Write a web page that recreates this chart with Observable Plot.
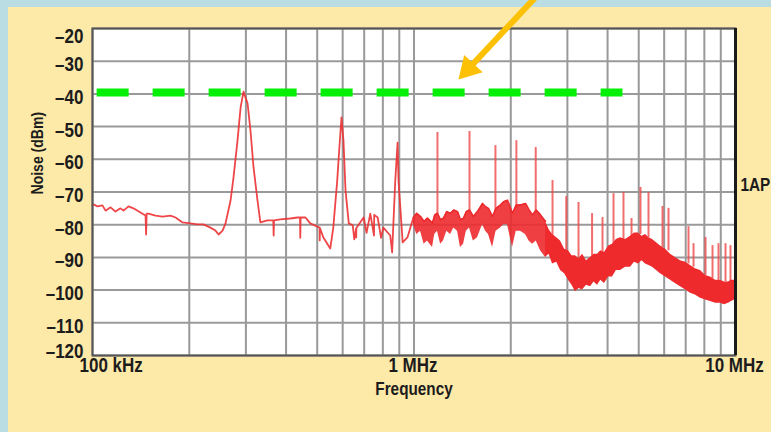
<!DOCTYPE html>
<html>
<head>
<meta charset="utf-8">
<script src="https://cdn.jsdelivr.net/npm/d3@7"></script>
<script src="https://cdn.jsdelivr.net/npm/@observablehq/plot@0.6"></script>
<style>
  html, body { margin: 0; padding: 0; background: #b9dde3; width: 771px; height: 432px; overflow: hidden; }
  #panel { position: absolute; left: 8px; top: 7px; width: 763px; height: 425px; background: #fde9a8; }
  #chart { position: absolute; left: 0; top: 0; }
</style>
</head>
<body>
<div id="panel"></div>
<div id="chart"></div>
<script>
// ---- Data (frequency in kHz, level in dBm) ----
// Low-frequency trace (single line)
const traceF  = [100, 100.7, 103.6, 107.4, 109.8, 113.8, 117.9, 122.2, 124.9, 129.4, 134.1, 141.0, 146.2, 146.8, 147.4, 149.3, 157.0, 165.1, 174.8, 181.3, 190.7, 201.6, 212.0, 221.4, 232.6, 241.3, 246.7, 253.9, 259.3, 268.8, 274.5, 282.5, 288.8, 294.9, 303.6, 310.0, 316.9, 326.0, 332.8, 350.1, 365, 366, 367, 383.9, 412.3, 434.5, 442, 442.9, 444, 459.6, 475.8, 508.6, 509, 510, 522.5, 548.9, 561.0, 577.0, 586, 594.8, 603.5, 612.3, 626.9, 645, 652, 660.5, 661, 662, 697, 712, 731.2, 751, 752, 771, 790, 803, 843.6, 855, 874.5, 889, 895, 922, 954, 996];
const traceDb = [-74, -73.8, -74.4, -74.1, -75.7, -74.7, -76.0, -75.0, -75.7, -74.4, -75.0, -76.3, -77.2, -83.0, -76.6, -76.6, -77.2, -77.5, -77.2, -77.8, -79.3, -79.6, -79.9, -79.9, -80.9, -81.8, -83.0, -81.8, -79.6, -72.6, -65.6, -54.3, -44.2, -39.3, -42.9, -51.2, -62.5, -72.6, -79.3, -78.7, -78.7, -83.3, -78.7, -78.4, -78.1, -77.8, -77.8, -84.0, -77.8, -77.8, -79.6, -80.9, -84.8, -81.0, -83.9, -87.3, -80.9, -66.5, -56.4, -47.2, -54.3, -69.5, -79.6, -80.2, -84.5, -81.2, -83.9, -81.0, -77.8, -82.5, -76.6, -83.3, -77.0, -77.8, -84.0, -80.9, -83.3, -88.5, -66.5, -54.9, -66.5, -85.4, -83.9, -77.8];

// Broadband noise region (upper and lower edge)
const bandF  = [996, 1020, 1048, 1075, 1101, 1142, 1160, 1183, 1210, 1235, 1265, 1299, 1330, 1366, 1395, 1426, 1455, 1488, 1530, 1576, 1634, 1670, 1705, 1755, 1800, 1858, 1900, 1954, 2025, 2080, 2144, 2223, 2280, 2337, 2400, 2475, 2565, 2630, 2697, 2780, 2856, 2940, 3024, 3100, 3179, 3260, 3343, 3440, 3540, 3630, 3722, 3810, 3913, 4030, 4144, 4260, 4388, 4550, 4714, 4850, 4992, 5120, 5249, 5380, 5519, 5680, 5844, 6060, 6279, 6500, 6744, 7000, 7245, 7500, 7783, 8070, 8360, 8670, 8980, 9240, 9510, 9720, 9930];
const bandHi = [-77.8, -76.5, -77.5, -79, -78, -79.5, -77, -76.5, -78.5, -78, -76, -76.5, -75.5, -76, -78.5, -78, -76, -75.5, -77.5, -76, -73.5, -74.5, -75, -77.5, -75, -74, -73, -72.5, -76.5, -74, -74, -73.5, -75.5, -77, -75.5, -77, -79, -81.5, -83, -84, -85, -87.5, -88, -89.5, -89.5, -90.5, -89, -91, -90, -89, -89, -88, -88.5, -86.5, -86, -84.5, -84, -84.5, -83.5, -82.5, -82.5, -83.5, -83, -84, -84.5, -85.5, -86.5, -87.5, -89, -90, -91, -91.5, -92.5, -93.5, -94, -95.5, -96, -97, -97, -97.5, -97.5, -97, -97];
const bandLo = [-80, -83, -82, -86, -85, -87, -83, -82, -86, -85, -82, -83, -81, -82, -87, -86, -82, -81, -85, -84, -80, -82, -83, -87, -82, -81, -80, -80, -87, -82, -82, -83, -85, -86, -85, -88, -90, -89, -92, -91.5, -94, -95, -97, -98.5, -100.5, -99.5, -100, -98.5, -99, -97.5, -98.5, -97, -98, -96, -96, -94, -94, -93, -93, -91.5, -92, -91, -92, -92.5, -93, -94, -95, -96, -97, -98, -99, -100, -101, -101.5, -102.5, -103, -103.5, -104, -104, -104.5, -104, -103.5, -103];

// Harmonic / interference spikes
const spikeF    = [1183, 1488, 1792, 2082, 2391, 2697, 2976, 3249, 3580, 3858, 4174, 4483, 4749, 5064, 5363, 5929, 6189, 7142, 7404, 8068, 8483, 8853, 9310, 9647];
const spikeTop  = [-51.8, -51.5, -55.8, -54.3, -56.4, -66.5, -71.4, -73.2, -76.6, -77.8, -70.5, -70.2, -78.1, -68.6, -70.2, -74.4, -75, -80.6, -85.8, -83.9, -86.4, -85.8, -85.8, -86.4];
const spikeBase = [-77, -76, -76, -75, -76, -84, -88, -91, -90, -89, -86, -85, -84, -83, -84, -87, -88, -92, -93, -95.5, -96.5, -97, -97.5, -97.5];

// -40 dBm limit line and annotation arrow
const limitF  = [103, 4450];
const limitDb = [-40, -40];
const arrowF  = [2416, 1375];
const arrowDb = [-9.9, -35.6];

// Axes
const yTicks = [-20, -30, -40, -50, -60, -70, -80, -90, -100, -110, -120];
const xLabelF = [100, 1000, 10000];
const xLabels = ["100 kHz", "1 MHz", "10 MHz"];
const gridF = [1, 2, 3, 4, 5, 6, 7, 8, 9].flatMap(m => [m * 100, m * 1000]).concat([10000]);

// ---- Tables ----
const trace = traceF.map((f, i) => ({f, db: traceDb[i]}));
const band = bandF.map((f, i) => ({f, hi: bandHi[i], lo: bandLo[i]}));
const bandLight = band.filter(d => d.f <= 2565);
const bandSolid = band.filter(d => d.f >= 2565);
const spikes = spikeF.map((f, i) => ({f, top: spikeTop[i], base: spikeBase[i]}));
const limit = limitF.map((f, i) => ({f, db: limitDb[i]}));
const arrow = [{x1: arrowF[0], y1: arrowDb[0], x2: arrowF[1], y2: arrowDb[1]}];

const FONT = "'Liberation Sans', Arial, sans-serif";
const lab = d => "\u2013" + Math.abs(d);
const txt = {fontFamily: FONT, fontWeight: "bold", fill: "#1c1c1c"};

const chart = Plot.plot({
  width: 771,
  height: 432,
  marginLeft: 92,
  marginTop: 28,
  marginRight: 36,
  marginBottom: 77,
  style: {background: "transparent", fontFamily: FONT, overflow: "visible"},
  x: {type: "log", domain: [100, 10000], axis: null},
  y: {domain: [-120, -20], axis: null},
  marks: [
    Plot.frame({fill: "white"}),
    Plot.ruleX(gridF, {stroke: "#999", strokeWidth: 2}),
    Plot.ruleY(yTicks, {stroke: "#9a9a9a", strokeWidth: 2}),
    Plot.ruleX(spikes, {x: "f", y1: "base", y2: "top", stroke: "#ef4a4a", strokeWidth: 2, strokeOpacity: 0.8}),
    Plot.areaY(bandLight, {x: "f", y1: "lo", y2: "hi", fill: "#ee2a2d", fillOpacity: 0.9}),
    Plot.line(bandLight, {x: "f", y: "hi", stroke: "#ec2a2d", strokeWidth: 1.6}),
    Plot.areaY(bandSolid, {x: "f", y1: "lo", y2: "hi", fill: "#ee2a2d"}),
    Plot.line(trace, {x: "f", y: "db", stroke: "#ec3234", strokeWidth: 1.8, strokeOpacity: 0.9}),
    Plot.lineY(limit, {x: "f", y: "db", stroke: "#06ef06", strokeWidth: 8, strokeDasharray: "32,24", strokeLinecap: "butt", dy: -1.5}),
    Plot.frame({stroke: "#555", strokeWidth: 2}),
    Plot.ruleX([10000], {stroke: "#1a1a1a", strokeWidth: 3}),
    Plot.arrow(arrow, {x1: "x1", y1: "y1", x2: "x2", y2: "y2", stroke: "#fcc105", strokeWidth: 6, headLength: 0, insetEnd: 16, strokeLinecap: "butt"}),
    Plot.dot([arrow[0]], {x: "x2", y: "y2", symbol: "triangle", r: 9.4, rotate: 223, fill: "#fcc105", stroke: "none", dx: 10, dy: -10.6}),
    // y tick labels
    Plot.text(yTicks.slice(0, 1), {y: d => d, frameAnchor: "left", textAnchor: "end", dx: -9, dy: 8.5, text: lab, fontSize: 20, ...txt}),
    Plot.text(yTicks.slice(1, -1), {y: d => d, frameAnchor: "left", textAnchor: "end", dx: -9, dy: 3.5, text: lab, fontSize: 20, ...txt}),
    Plot.text(yTicks.slice(-1), {y: d => d, frameAnchor: "left", textAnchor: "end", dx: -9, dy: -3.5, text: lab, fontSize: 20, ...txt}),
    // x tick labels
    Plot.text(xLabelF.slice(0, 1), {x: d => d, frameAnchor: "bottom", textAnchor: "start", dx: -13, dy: 16.5, text: xLabels.slice(0, 1), fontSize: 20, ...txt}),
    Plot.text(xLabelF.slice(1), {x: d => d, frameAnchor: "bottom", textAnchor: "middle", dx: -1, dy: 16.5, text: xLabels.slice(1), fontSize: 20, ...txt}),
    // axis titles
    Plot.text(["Frequency"], {frameAnchor: "bottom", dy: 39, fontSize: 18, ...txt}),
    Plot.text(["Noise (dBm)"], {frameAnchor: "left", dx: -55, dy: 2.5, rotate: -90, fontSize: 16.5, ...txt}),
    Plot.text(["1AP"], {frameAnchor: "right", textAnchor: "start", dx: 5, dy: -6.5, fontSize: 18, ...txt})
  ]
});
document.getElementById("chart").appendChild(chart);

// Condensed look: horizontally compress every label (no condensed face is installed)
chart.querySelectorAll("text").forEach(t => {
  const w = t.getComputedTextLength();
  if (w > 0) {
    t.setAttribute("textLength", (w * 0.85).toFixed(1));
    t.setAttribute("lengthAdjust", "spacingAndGlyphs");
  }
});
</script>
</body>
</html>
